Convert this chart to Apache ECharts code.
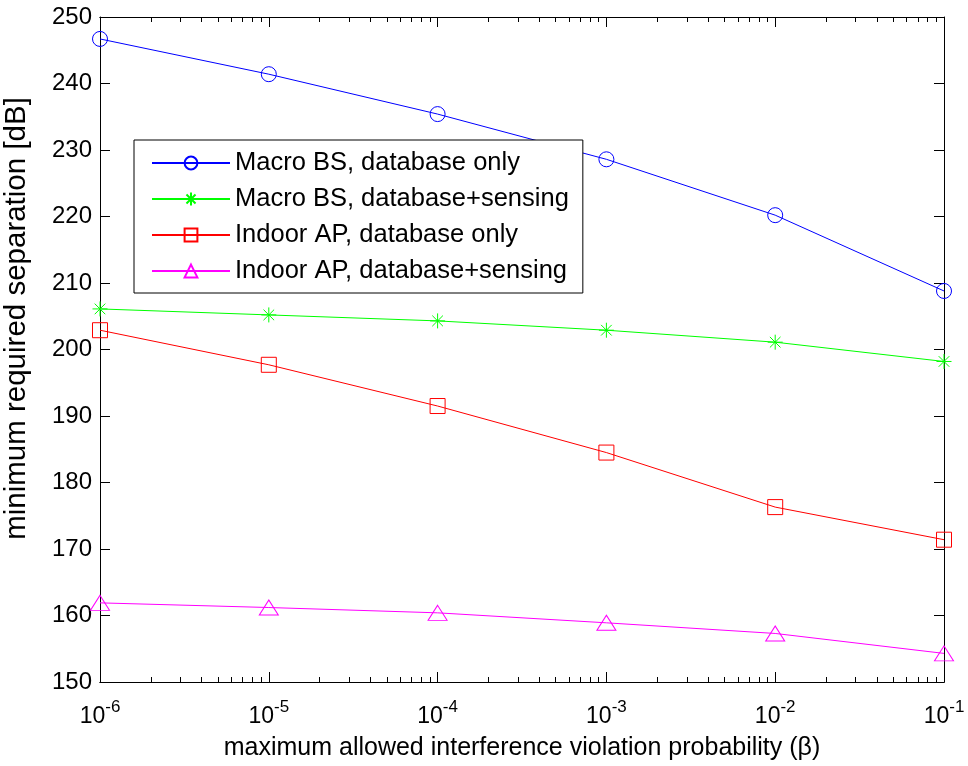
<!DOCTYPE html>
<html>
<head>
<meta charset="utf-8">
<script src="https://cdn.jsdelivr.net/npm/echarts@6/dist/echarts.min.js"></script>
<style>html,body{margin:0;padding:0;background:#fff;}#c{width:968px;height:766px;}</style>
</head>
<body>
<div id="c"></div>
<script>
const xValues = [1e-6, 1e-5, 1e-4, 1e-3, 1e-2, 1e-1];
const macroDb = [246.7, 241.4, 235.4, 228.6, 220.2, 208.8];
const macroSense = [206.1, 205.2, 204.3, 202.9, 201.1, 198.2];
const indoorDb = [202.9, 197.7, 191.5, 184.5, 176.3, 171.4];
const indoorSense = [161.9, 161.2, 160.4, 158.9, 157.3, 154.3];
const seriesNames = ['Macro BS, database only', 'Macro BS, database+sensing', 'Indoor AP, database only', 'Indoor AP, database+sensing'];
const majorTicks = [1e-6, 1e-5, 1e-4, 1e-3, 1e-2, 1e-1];
const minorTicks = [];
for (let e = -6; e < -1; e++) for (let k = 2; k <= 9; k++) minorTicks.push(+(k * Math.pow(10, e)).toPrecision(3));

const FONT = 'Liberation Sans, Arial, sans-serif';
const pairs = v => xValues.map((x, i) => [x, v[i]]);
const asterisk = 'path://M5,0L5,10M0,5L10,5M1.46,1.46L8.54,8.54M1.46,8.54L8.54,1.46';

function mkSeries(name, data, color, symbol, size) {
  return {
    name, type: 'line', data: pairs(data), symbol, symbolSize: size,
    showAllSymbol: true,
    lineStyle: { color, width: 1 },
    itemStyle: { color: 'rgba(0,0,0,0)', borderColor: color, borderWidth: 1 },
    emphasis: { disabled: true }, animation: false, z: 3
  };
}
const baseX = {
  type: 'log', logBase: 10, min: 1e-6, max: 1e-1,
  splitLine: { show: false }, minorSplitLine: { show: false },
  axisLine: { show: true, lineStyle: { color: '#000', width: 1 } }
};
const chart = echarts.init(document.getElementById('c'), null, { renderer: 'canvas' });
chart.setOption({
  backgroundColor: '#fff',
  animation: false,
  grid: { left: 100, right: 24, top: 17, bottom: 84, containLabel: false, outerBoundsMode: 'none' },
  legend: {
    orient: 'vertical', left: 134, top: 140,
    backgroundColor: '#fff', borderColor: '#000', borderWidth: 1, borderRadius: 0,
    padding: [10, 14, 9, 17], itemGap: 10, itemWidth: 78, itemHeight: 16,
    textStyle: { fontFamily: FONT, fontSize: 25.5, color: '#000', lineHeight: 24 },
    data: seriesNames
  },
  xAxis: [
    Object.assign({}, baseX, {
      position: 'bottom',
      axisTick: { show: true, inside: true, length: 10, lineStyle: { color: '#000' }, customValues: majorTicks },
      axisLabel: {
        color: '#000', fontFamily: FONT, fontSize: 23, margin: 17, customValues: majorTicks,
        formatter: v => '10{s|' + Math.round(Math.log10(v)) + '}',
        rich: { s: { fontSize: 17, fontFamily: FONT, color: '#000', padding: [0, 0, 18, 0] } }
      },
      name: 'maximum allowed interference violation probability (β)',
      nameLocation: 'middle', nameGap: 54,
      nameTextStyle: { fontFamily: FONT, fontSize: 25, color: '#000' }
    }),
    Object.assign({}, baseX, {
      position: 'bottom',
      axisTick: { show: true, inside: true, length: 5, lineStyle: { color: '#000' }, customValues: minorTicks },
      axisLabel: { show: false }
    }),
    Object.assign({}, baseX, {
      position: 'top',
      axisTick: { show: true, inside: true, length: 10, lineStyle: { color: '#000' }, customValues: majorTicks },
      axisLabel: { show: false }
    }),
    Object.assign({}, baseX, {
      position: 'top',
      axisTick: { show: true, inside: true, length: 5, lineStyle: { color: '#000' }, customValues: minorTicks },
      axisLabel: { show: false }
    })
  ],
  yAxis: [
    {
      type: 'value', min: 150, max: 250, interval: 10, position: 'left',
      splitLine: { show: false },
      axisLine: { show: true, lineStyle: { color: '#000', width: 1 } },
      axisTick: { show: true, inside: true, length: 10, lineStyle: { color: '#000' } },
      axisLabel: { color: '#000', fontFamily: FONT, fontSize: 24, margin: 8 },
      name: 'minimum required separation [dB]', nameLocation: 'middle', nameGap: 68,
      nameTextStyle: { fontFamily: FONT, fontSize: 29.5, color: '#000', padding: [0, 0, 0, 62] }
    },
    {
      type: 'value', min: 150, max: 250, interval: 10, position: 'right',
      splitLine: { show: false },
      axisLine: { show: true, lineStyle: { color: '#000', width: 1 } },
      axisTick: { show: true, inside: true, length: 10, lineStyle: { color: '#000' } },
      axisLabel: { show: false }
    }
  ],
  series: [
    mkSeries(seriesNames[0], macroDb, '#0000ff', 'circle', 15),
    mkSeries(seriesNames[1], macroSense, '#00ff00', asterisk, 15),
    mkSeries(seriesNames[2], indoorDb, '#ff0000', 'rect', 15),
    mkSeries(seriesNames[3], indoorSense, '#ff00ff', 'triangle', [19, 15])
  ]
});
</script>
</body>
</html>
